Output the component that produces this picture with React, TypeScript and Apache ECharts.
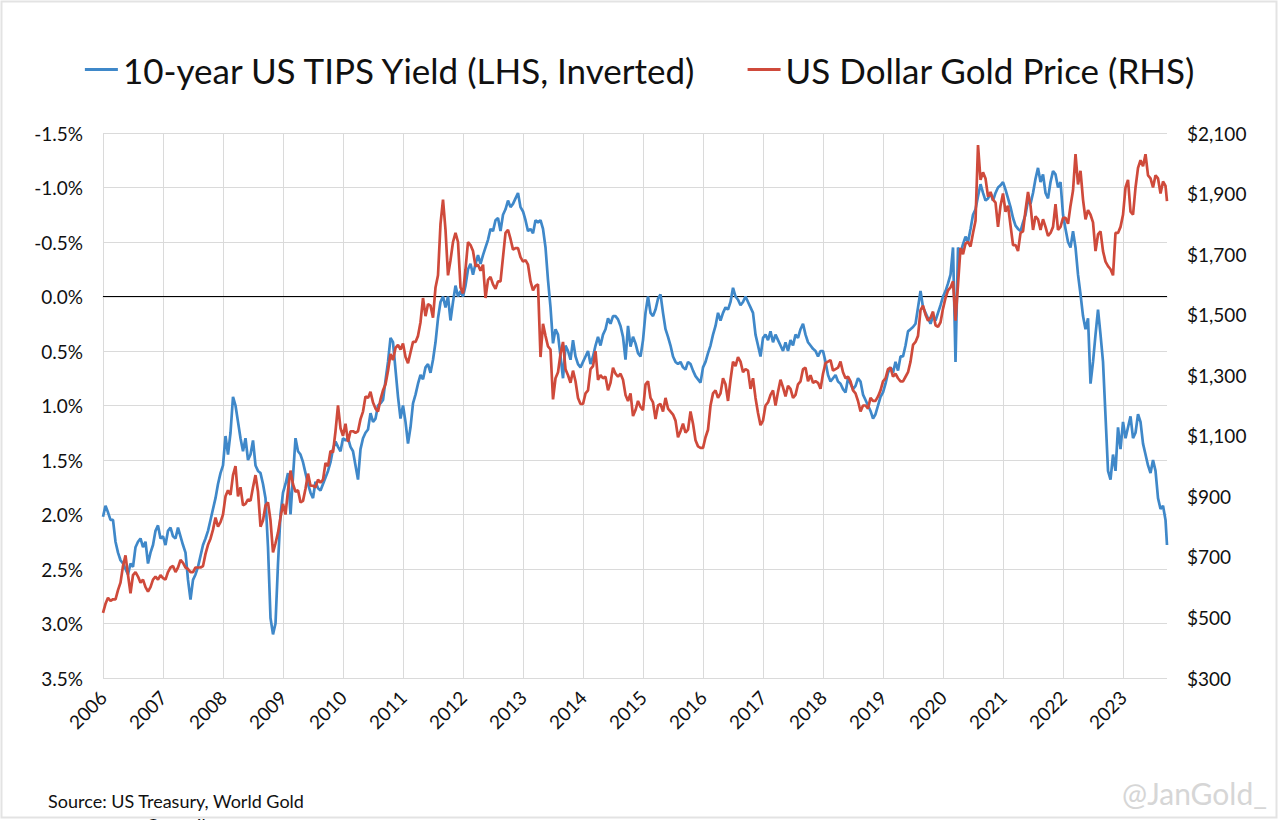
import React, { useEffect, useRef } from "react";
import * as echarts from "echarts";

// Sampling: two readings per month starting January 2006; last reading is end of September 2023
const START_YEAR = 2006;
const STEPS_PER_YEAR = 24;
const END_DATE = 2023.733;

const seriesNames = ["10-year US TIPS Yield (LHS, Inverted)", "US Dollar Gold Price (RHS)"];

// 10-year US TIPS yield, %
const tipsYield = [
  2.02, 1.92, 1.98, 2.05, 2.05, 2.25, 2.35, 2.42, 2.45, 2.5, 2.55, 2.45, 2.48, 2.3, 2.25, 2.22, 2.3, 2.25, 2.45, 2.35, 2.28, 2.15, 2.1, 2.22,
  2.2, 2.28, 2.15, 2.12, 2.2, 2.22, 2.12, 2.2, 2.28, 2.35, 2.6, 2.78, 2.6, 2.55, 2.48, 2.38, 2.28, 2.22, 2.15, 2.05, 1.95, 1.85, 1.72, 1.62,
  1.55, 1.28, 1.45, 1.25, 0.92, 1.0, 1.15, 1.3, 1.42, 1.3, 1.5, 1.45, 1.32, 1.55, 1.6, 1.62, 1.72, 1.85, 2.3, 2.95, 3.1, 3.0, 2.45, 2.0,
  1.8, 1.72, 1.62, 2.0, 1.65, 1.3, 1.42, 1.45, 1.52, 1.62, 1.72, 1.8, 1.85, 1.7, 1.76, 1.78, 1.72, 1.66, 1.6, 1.52, 1.4, 1.33, 1.38, 1.42,
  1.3, 1.32, 1.3, 1.38, 1.42, 1.55, 1.68, 1.4, 1.3, 1.25, 1.22, 1.07, 1.15, 1.12, 1.0, 0.98, 0.95, 0.77, 0.6, 0.38, 0.42, 0.67, 0.92, 1.12,
  1.0, 1.15, 1.35, 1.2, 0.98, 0.9, 0.8, 0.72, 0.76, 0.65, 0.62, 0.7, 0.58, 0.42, 0.2, 0.05, 0.0, 0.1, 0.0, 0.22, 0.05, -0.1, 0.0, -0.05,
  0.0, -0.1, -0.25, -0.3, -0.2, -0.3, -0.38, -0.3, -0.38, -0.45, -0.52, -0.62, -0.6, -0.7, -0.72, -0.6, -0.75, -0.8, -0.88, -0.82, -0.85, -0.9, -0.95, -0.82,
  -0.78, -0.7, -0.6, -0.62, -0.58, -0.7, -0.68, -0.7, -0.62, -0.45, -0.15, 0.1, 0.43, 0.3, 0.35, 0.55, 0.75, 0.45, 0.5, 0.58, 0.4, 0.55, 0.62, 0.65,
  0.6, 0.55, 0.5, 0.62, 0.55, 0.45, 0.37, 0.45, 0.35, 0.3, 0.2, 0.25, 0.18, 0.18, 0.21, 0.27, 0.37, 0.58, 0.27, 0.46, 0.37, 0.43, 0.52, 0.55,
  0.4, 0.15, 0.0, 0.15, 0.18, 0.12, 0.02, -0.02, 0.15, 0.3, 0.37, 0.45, 0.55, 0.6, 0.62, 0.6, 0.65, 0.67, 0.6, 0.62, 0.68, 0.73, 0.76, 0.79,
  0.65, 0.6, 0.52, 0.45, 0.35, 0.27, 0.15, 0.22, 0.15, 0.1, 0.12, 0.05, -0.08, 0.0, 0.03, 0.08, 0.05, 0.0, 0.05, 0.1, 0.15, 0.35, 0.45, 0.55,
  0.38, 0.35, 0.4, 0.32, 0.42, 0.35, 0.4, 0.45, 0.5, 0.42, 0.5, 0.4, 0.45, 0.35, 0.38, 0.3, 0.25, 0.35, 0.42, 0.45, 0.48, 0.5, 0.55, 0.5,
  0.5, 0.6, 0.72, 0.78, 0.75, 0.72, 0.78, 0.8, 0.85, 0.88, 0.75, 0.8, 0.85, 0.82, 0.75, 0.78, 0.9, 0.95, 1.0, 1.05, 1.12, 1.08, 1.0, 0.92,
  0.88, 0.8, 0.7, 0.65, 0.7, 0.6, 0.68, 0.55, 0.55, 0.45, 0.32, 0.3, 0.28, 0.25, 0.1, -0.05, 0.1, 0.15, 0.2, 0.25, 0.18, 0.22, 0.15, 0.08,
  0.0, -0.05, -0.12, -0.2, -0.45, 0.6, -0.45, -0.4, -0.48, -0.55, -0.5, -0.62, -0.75, -0.8, -0.92, -1.03, -0.95, -0.88, -0.9, -0.95, -0.88, -0.95, -1.0, -1.02,
  -1.05, -0.98, -0.9, -0.82, -0.72, -0.65, -0.62, -0.6, -0.68, -0.75, -0.88, -0.85, -0.95, -1.08, -1.18, -1.05, -1.12, -0.95, -0.9, -1.05, -1.15, -1.12, -1.0, -1.05,
  -0.75, -0.62, -0.5, -0.45, -0.6, -0.45, -0.2, -0.02, 0.18, 0.3, 0.2, 0.8, 0.6, 0.35, 0.12, 0.35, 0.6, 1.1, 1.6, 1.68, 1.45, 1.6, 1.2, 1.4,
  1.15, 1.3, 1.2, 1.1, 1.3, 1.25, 1.08, 1.15, 1.35, 1.45, 1.55, 1.62, 1.5, 1.6, 1.85, 1.95, 1.92, 2.05, 2.28,
];

// US dollar gold price, $/oz
const goldPrice = [
  515, 545, 565, 555, 560, 560, 590, 615, 670, 705, 640, 580, 640, 650, 635, 615, 625, 600, 585, 600, 625, 635, 625, 640,
  630, 625, 650, 665, 670, 650, 665, 690, 680, 665, 660, 650, 650, 665, 665, 665, 670, 710, 740, 760, 790, 830, 800, 815,
  840, 900, 920, 905, 970, 1000, 900, 930, 870, 875, 890, 885, 930, 970, 915, 800, 820, 870, 880, 820, 715, 745, 780, 830,
  875, 840, 920, 985, 940, 915, 920, 880, 885, 925, 975, 935, 935, 930, 955, 945, 955, 1010, 1000, 1050, 1045, 1115, 1200, 1125,
  1100, 1140, 1080, 1115, 1115, 1110, 1115, 1155, 1180, 1230, 1225, 1245, 1210, 1190, 1180, 1220, 1250, 1270, 1315, 1370, 1350, 1390, 1400, 1385,
  1405, 1360, 1340, 1375, 1410, 1410, 1430, 1475, 1555, 1495, 1535, 1530, 1490, 1590, 1630, 1800, 1880, 1780, 1630, 1680, 1740, 1770, 1740, 1590,
  1570, 1650, 1740, 1730, 1710, 1660, 1665, 1645, 1665, 1555, 1615, 1625, 1600, 1585, 1610, 1610, 1690, 1770, 1780, 1750, 1715, 1720, 1720, 1690,
  1675, 1680, 1665, 1610, 1580, 1595, 1600, 1360, 1470, 1430, 1395, 1385, 1220, 1290, 1310, 1370, 1410, 1320, 1300, 1275, 1315, 1280, 1225, 1205,
  1205, 1240, 1250, 1320, 1330, 1380, 1285, 1300, 1290, 1295, 1250, 1275, 1325, 1305, 1295, 1305, 1285, 1235, 1215, 1240, 1165, 1185, 1215, 1195,
  1185, 1270, 1280, 1225, 1210, 1155, 1200, 1205, 1180, 1225, 1190, 1180, 1170, 1150, 1095, 1115, 1140, 1110, 1120, 1180, 1140, 1085, 1065, 1060,
  1060, 1095, 1120, 1200, 1240, 1250, 1225, 1240, 1290, 1270, 1215, 1285, 1345, 1330, 1360, 1345, 1310, 1320, 1315, 1255, 1290, 1225, 1175, 1135,
  1150, 1200, 1210, 1235, 1250, 1200, 1245, 1285, 1260, 1230, 1265, 1255, 1225, 1235, 1270, 1280, 1320, 1325, 1280, 1300, 1275, 1280, 1275, 1255,
  1305, 1340, 1345, 1350, 1315, 1320, 1325, 1345, 1310, 1290, 1295, 1280, 1250, 1240, 1215, 1180, 1200, 1200, 1190, 1225, 1215, 1215, 1230, 1250,
  1280, 1290, 1320, 1325, 1295, 1305, 1290, 1280, 1280, 1295, 1310, 1345, 1400, 1410, 1430, 1515, 1530, 1500, 1480, 1490, 1510, 1465, 1460, 1475,
  1520, 1555, 1580, 1590, 1610, 1480, 1600, 1720, 1700, 1735, 1740, 1725, 1770, 1810, 2060, 1945, 1970, 1950, 1890, 1905, 1880, 1870, 1790, 1860,
  1900, 1840, 1860, 1795, 1730, 1730, 1710, 1770, 1775, 1845, 1905, 1860, 1780, 1825, 1815, 1780, 1815, 1790, 1760, 1770, 1790, 1865, 1780, 1790,
  1820, 1820, 1800, 1860, 1910, 2030, 1930, 1975, 1880, 1815, 1845, 1830, 1805, 1710, 1765, 1775, 1710, 1675, 1660, 1650, 1630, 1770, 1770, 1790,
  1830, 1920, 1945, 1840, 1830, 1920, 1985, 2010, 1990, 2030, 1960, 1950, 1920, 1960, 1950, 1900, 1940, 1925, 1875,
];

const leftMin = -1.5;
const leftMax = 3.5;
const leftStep = 0.5;
const rightMin = 300;
const rightMax = 2100;
const rightStep = 200;
const zeroLine = 0;
const sourceText = "Source: US Treasury, World Gold\nCouncil";
const watermark = "@JanGold_";

const FONT = "Lato, 'Noto Sans', sans-serif";
const BLUE = "#3f88c9";
const RED = "#cf4a3b";
const GRID = "#dadada";

function toPairs(values: number[]) {
  return values.map((v, i) => [i === values.length - 1 ? END_DATE : START_YEAR + i / STEPS_PER_YEAR, v]);
}

function dollars(v: number) {
  const s = Math.round(v).toString();
  return "$" + s.replace(/\B(?=(\d{3})+(?!\d))/g, ",");
}

export default function App() {
  const ref = useRef<HTMLDivElement>(null);

  useEffect(() => {
    if (!ref.current) return;
    const chart = echarts.init(ref.current, null, { renderer: "svg" });
    chart.setOption({
      animation: false,
      backgroundColor: "#ffffff",
      textStyle: { fontFamily: FONT },
      legend: {
        data: seriesNames,
        left: "center",
        top: 47,
        icon: "rect",
        itemWidth: 33,
        itemHeight: 3,
        itemGap: 50,
        textStyle: { fontSize: 35, color: "#111", fontFamily: FONT },
      },
      grid: { left: 103, right: 113, top: 133, bottom: 142, containLabel: false },
      xAxis: {
        type: "value",
        min: START_YEAR,
        max: END_DATE,
        interval: 1,
        axisLine: { show: true, lineStyle: { color: GRID, width: 1.5 } },
        axisTick: { show: false },
        splitLine: { show: true, showMaxLine: false, lineStyle: { color: GRID, width: 1 } },
        axisLabel: {
          rotate: 45,
          margin: 16,
          fontSize: 19,
          color: "#111",
          fontFamily: FONT,
          showMaxLabel: false,
          formatter: (v: number) => (Math.abs(v - Math.round(v)) < 1e-6 ? String(Math.round(v)) : ""),
        },
      },
      yAxis: [
        {
          type: "value",
          inverse: true,
          min: leftMin,
          max: leftMax,
          interval: leftStep,
          axisLine: { show: false },
          axisTick: { show: false },
          splitLine: { show: true, lineStyle: { color: GRID, width: 1 } },
          axisLabel: {
            margin: 20,
            fontSize: 19,
            color: "#111",
            fontFamily: FONT,
            formatter: (v: number) => (Math.abs(v) < 1e-9 ? 0 : v).toFixed(1) + "%",
          },
        },
        {
          type: "value",
          min: rightMin,
          max: rightMax,
          interval: rightStep,
          position: "right",
          axisLine: { show: false },
          axisTick: { show: false },
          splitLine: { show: false },
          axisLabel: {
            margin: 20,
            fontSize: 19,
            color: "#111",
            fontFamily: FONT,
            formatter: (v: number) => dollars(v),
          },
        },
      ],
      series: [
        {
          name: "zero",
          type: "line",
          yAxisIndex: 0,
          data: [],
          z: 1,
          silent: true,
          markLine: {
            silent: true,
            z: 1,
            symbol: ["none", "none"],
            label: { show: false },
            lineStyle: { color: "#000000", width: 1, type: "solid" },
            emphasis: { disabled: true },
            data: [{ yAxis: zeroLine }],
          },
        },
        {
          name: seriesNames[0],
          type: "line",
          yAxisIndex: 0,
          data: toPairs(tipsYield),
          showSymbol: false,
          symbol: "none",
          lineStyle: { color: BLUE, width: 2.7 },
          itemStyle: { color: BLUE },
          z: 2,
        },
        {
          name: seriesNames[1],
          type: "line",
          yAxisIndex: 1,
          data: toPairs(goldPrice),
          showSymbol: false,
          symbol: "none",
          lineStyle: { color: RED, width: 2.7 },
          itemStyle: { color: RED },
          z: 3,
        },
      ],
      graphic: [
        {
          type: "rect",
          shape: { x: 1.5, y: 1.5, width: 1275, height: 816 },
          style: { fill: "none", stroke: "#e3e3e3", lineWidth: 2 },
          silent: true,
        },
        {
          type: "text",
          x: 176,
          y: 789,
          style: {
            text: sourceText,
            fontSize: 18,
            lineHeight: 24,
            fill: "#111",
            fontFamily: FONT,
            textAlign: "center",
            textVerticalAlign: "top",
          },
          silent: true,
        },
        {
          type: "text",
          x: 1267,
          y: 808,
          style: {
            text: watermark,
            fontSize: 30,
            fill: "#d6d6d6",
            fontFamily: FONT,
            textAlign: "right",
            textVerticalAlign: "bottom",
          },
          silent: true,
        },
      ],
    });
    return () => chart.dispose();
  }, []);

  return (
    <div
      ref={ref}
      style={{ position: "fixed", left: 0, top: 0, width: 1280, height: 820, background: "#fff" }}
    />
  );
}
